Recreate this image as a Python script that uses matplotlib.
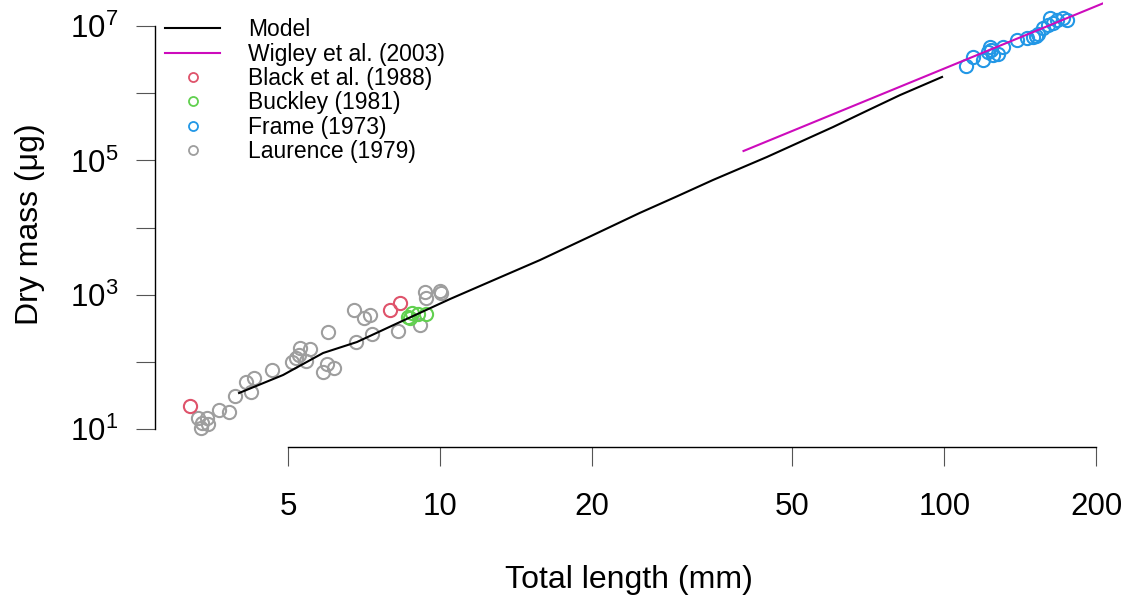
import numpy as np
import matplotlib
matplotlib.use("Agg")
import matplotlib.pyplot as plt
from matplotlib.lines import Line2D
from matplotlib.ticker import FixedLocator, NullLocator, FuncFormatter

plt.rcParams['font.family'] = ['Liberation Sans', 'DejaVu Sans']
plt.rcParams['mathtext.default'] = 'regular'

# Laurence (1979)
laurence_len = [3.32, 3.45, 3.47, 3.36, 3.38, 3.65, 3.82, 3.93, 4.13, 4.22, 4.28,
                4.65, 5.09, 5.19, 5.26, 5.28, 5.43, 5.53, 5.87, 5.97, 6.17, 6.00,
                6.76, 7.07, 7.27, 6.82, 7.34, 8.26, 9.14, 9.35, 9.39, 10.0, 10.05]
laurence_mass = [14.7, 14.7, 12.0, 10.5, 12.4, 19.4, 18.1, 31.3, 50.6, 35.9, 58.0,
                 76.3, 100.3, 115, 127.6, 162, 103.8, 156.7, 71.2, 93.8, 81.7, 280,
                 596, 453, 502, 199, 262, 290, 357, 1104, 899, 1143, 1067]

# Black et al. (1988)
black_len = [3.20, 7.96, 8.34]
black_mass = [22.2, 596, 758]

# Buckley (1981)
buckley_len = [8.65, 8.81, 9.05, 9.39, 8.73]
buckley_mass = [469, 538, 520, 520, 453]

# Frame (1973)
frame_len = [110.5, 114.0, 119.4, 122.1, 123.3, 123.8, 125.0, 127.8, 130.8, 139.4,
             146.0, 150.0, 152.1, 153.4, 157.0, 160.6, 162.1, 164.3, 167.3, 172.0, 175.2]
frame_mass = [2.55e6, 3.47e6, 3.13e6, 4.12e6, 4.89e6, 4.41e6, 3.72e6, 3.85e6, 4.89e6, 6.21e6,
              6.65e6, 6.89e6, 7.13e6, 7.63e6, 9.37e6, 1.04e7, 1.32e7, 1.11e7, 1.23e7, 1.32e7, 1.23e7]

# model curve
model_len = [4.0, 4.89, 5.87, 6.85, 8.34, 10.48, 12.9, 15.8, 19.8, 24.9, 29.5,
             34.8, 44.5, 52.0, 60.2, 70.0, 81.7, 99.0]
model_mass = [34.7, 64.3, 136.6, 199, 395, 869, 1710, 3303, 7330, 16560, 29200,
              51300, 1.127e5, 1.915e5, 3.15e5, 5.42e5, 9.4e5, 1.75e6]

# Wigley et al. (2003)
wigley_len = [40.0, 210.0]
wigley_mass = [1.385e5, 2.3e7]

col_black = '#DF536B'
col_buckley = '#61D04F'
col_frame = '#2297E6'
col_laurence = '#9E9E9E'
col_wigley = '#CD0BBC'

fig = plt.figure(figsize=(11.25, 6.01), dpi=100)
ax = fig.add_axes([155/1125, 154/601, 948/1125, 446/601])
ax.set_xscale('log')
ax.set_yscale('log')
ax.set_xlim(2.725, 206.4)
ax.set_ylim(5.453, 2.363e7)

pt = dict(linestyle='none', marker='o', markerfacecolor='none', markersize=9.5, markeredgewidth=1.5)
ax.plot(laurence_len, laurence_mass, markeredgecolor=col_laurence, **pt)
ax.plot(black_len, black_mass, markeredgecolor=col_black, **pt)
ax.plot(buckley_len, buckley_mass, markeredgecolor=col_buckley, **pt)
ax.plot(frame_len, frame_mass, markeredgecolor=col_frame, **pt)
ax.plot(model_len, model_mass, color='black', linewidth=1.5)
ax.plot(wigley_len, wigley_mass, color=col_wigley, linewidth=1.5)

for s in ['top', 'right']:
    ax.spines[s].set_visible(False)
ax.spines['left'].set_bounds(10, 1e7)
ax.spines['bottom'].set_bounds(5, 200)
for s in ['left', 'bottom']:
    ax.spines[s].set_linewidth(1.0)

xt = [5, 10, 20, 50, 100, 200]
ax.xaxis.set_major_locator(FixedLocator(xt))
ax.xaxis.set_minor_locator(NullLocator())
ax.xaxis.set_major_formatter(FuncFormatter(lambda v, p: f'{v:g}'))
yt = [1e1, 1e2, 1e3, 1e4, 1e5, 1e6, 1e7]
ax.yaxis.set_major_locator(FixedLocator(yt))
ax.yaxis.set_minor_locator(NullLocator())
ax.yaxis.set_major_formatter(FuncFormatter(
    lambda v, p: r'$10^{%d}$' % round(np.log10(v)) if round(np.log10(v)) % 2 == 1 else ''))
ax.tick_params(axis='both', length=13.7, width=0.8, color='#555555', labelsize=22.5)
ax.tick_params(axis='x', pad=19)
ax.tick_params(axis='y', pad=13)

ax.set_xlabel('Total length (mm)', fontsize=23, labelpad=31)
ax.set_ylabel('Dry mass (μg)', fontsize=23, labelpad=18)

handles = [
    Line2D([], [], color='black', linewidth=1.5),
    Line2D([], [], color=col_wigley, linewidth=1.5),
    Line2D([], [], linestyle='none', marker='o', markerfacecolor='none', markersize=6.5,
           markeredgewidth=1.3, markeredgecolor=col_black),
    Line2D([], [], linestyle='none', marker='o', markerfacecolor='none', markersize=6.5,
           markeredgewidth=1.3, markeredgecolor=col_buckley),
    Line2D([], [], linestyle='none', marker='o', markerfacecolor='none', markersize=6.5,
           markeredgewidth=1.3, markeredgecolor=col_frame),
    Line2D([], [], linestyle='none', marker='o', markerfacecolor='none', markersize=6.5,
           markeredgewidth=1.3, markeredgecolor=col_laurence),
]
labels = ['Model', 'Wigley et al. (2003)', 'Black et al. (1988)', 'Buckley (1981)',
          'Frame (1973)', 'Laurence (1979)']
fig.legend(handles, labels, loc='upper left', bbox_to_anchor=(165/1125, 1 - 18.5/601),
           frameon=False, fontsize=16.5, handlelength=2.4, handletextpad=1.22,
           labelspacing=0.055, borderpad=0, borderaxespad=0, numpoints=1)

fig.savefig('out.png', dpi=100)
